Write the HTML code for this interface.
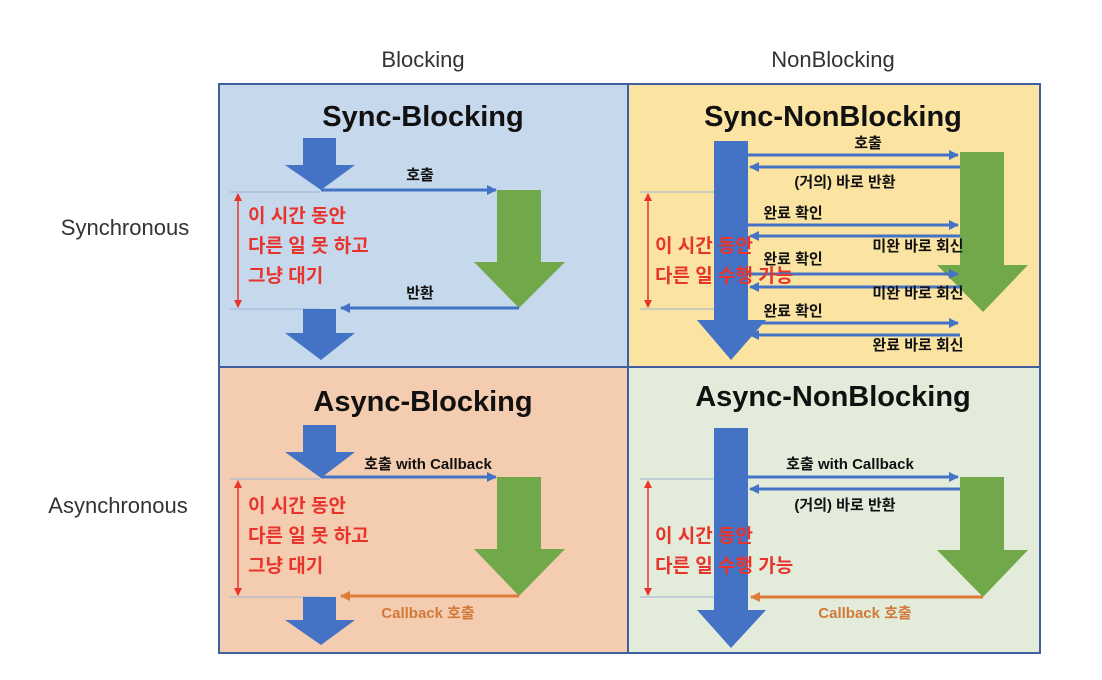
<!DOCTYPE html>
<html><head><meta charset="utf-8"><style>
html,body{margin:0;padding:0;background:#fff;}
svg{display:block;}
text{font-family:"Liberation Sans","Noto Sans CJK KR",sans-serif;}
.t{font-weight:bold;font-size:29px;fill:#111;text-anchor:middle;}
.h{font-size:22px;fill:#333;text-anchor:middle;}
.l{font-weight:bold;font-size:15px;fill:#111;text-anchor:middle;}
.o{font-weight:bold;font-size:15px;fill:#d2793a;text-anchor:middle;}
.r{font-weight:bold;font-size:19px;fill:#e8342c;}
.bl{stroke:#4472c4;stroke-width:3;fill:none;}
.th{stroke:#9db5d6;stroke-width:1;}
.rd{stroke:#e8342c;stroke-width:1.5;}
</style></head><body>
<svg width="1102" height="680" viewBox="0 0 1102 680" xmlns="http://www.w3.org/2000/svg">
<defs>
<marker id="ab" markerWidth="10" markerHeight="10" refX="9" refY="5" orient="auto" markerUnits="userSpaceOnUse"><path d="M0,0 L10,5 L0,10Z" fill="#4472c4"/></marker>
<marker id="ao" markerWidth="10" markerHeight="10" refX="9" refY="5" orient="auto" markerUnits="userSpaceOnUse"><path d="M0,0 L10,5 L0,10Z" fill="#e07a3a"/></marker>
<marker id="ar" markerWidth="8" markerHeight="8" refX="7" refY="4" orient="auto-start-reverse" markerUnits="userSpaceOnUse"><path d="M0,0 L8,4 L0,8Z" fill="#e8342c"/></marker>
</defs>
<rect x="0" y="0" width="1102" height="680" fill="#fff"/>
<text class="h" x="423" y="67">Blocking</text>
<text class="h" x="833" y="67">NonBlocking</text>
<text class="h" x="125" y="235">Synchronous</text>
<text class="h" x="118" y="513">Asynchronous</text>

<rect x="219" y="84" width="409" height="283" fill="#c5d8ec"/>
<rect x="628" y="84" width="412" height="283" fill="#fbe4a2"/>
<rect x="219" y="367" width="409" height="286" fill="#f4cdb1"/>
<rect x="628" y="367" width="412" height="286" fill="#e3ecda"/>
<rect x="219" y="84" width="821" height="569" fill="none" stroke="#3f5f9f" stroke-width="2"/>
<line x1="628" y1="84" x2="628" y2="653" stroke="#3f5f9f" stroke-width="2"/>
<line x1="219" y1="367" x2="1040" y2="367" stroke="#3f5f9f" stroke-width="2"/>

<!-- Sync-Blocking -->
<text class="t" x="423" y="126">Sync-Blocking</text>
<path d="M303,138 H336 V165 H355 L321,190 L285,165 H303Z" fill="#4472c4"/>
<path d="M497,190 H541 V262 H565 L519,308 L474,262 H497Z" fill="#70a84a"/>
<line x1="230" y1="192" x2="320" y2="192" class="th"/>
<line x1="230" y1="309" x2="320" y2="309" class="th"/>
<line x1="321" y1="190" x2="496" y2="190" class="bl" marker-end="url(#ab)"/>
<line x1="519" y1="308" x2="341" y2="308" class="bl" marker-end="url(#ab)"/>
<text class="l" x="420" y="180">호출</text>
<text class="l" x="420" y="298">반환</text>
<line x1="238" y1="194" x2="238" y2="307" class="rd" marker-start="url(#ar)" marker-end="url(#ar)"/>
<text class="r" x="248" y="222">이 시간 동안</text>
<text class="r" x="248" y="252">다른 일 못 하고</text>
<text class="r" x="248" y="282">그냥 대기</text>
<path d="M303,309 H336 V333 H355 L321,360 L285,333 H303Z" fill="#4472c4"/>

<!-- Sync-NonBlocking -->
<text class="t" x="833" y="126">Sync-NonBlocking</text>
<path d="M960,152 H1004 V265 H1028 L983,312 L937,265 H960Z" fill="#70a84a"/>
<line x1="640" y1="192" x2="714" y2="192" class="th"/>
<line x1="640" y1="309" x2="714" y2="309" class="th"/>
<line x1="648" y1="194" x2="648" y2="307" class="rd" marker-start="url(#ar)" marker-end="url(#ar)"/>
<path d="M714,141 H748 V320 H766 L731,360 L697,320 H714Z" fill="#4472c4"/>
<line x1="748" y1="155" x2="958" y2="155" class="bl" marker-end="url(#ab)"/>
<line x1="960" y1="167" x2="750" y2="167" class="bl" marker-end="url(#ab)"/>
<line x1="748" y1="225" x2="958" y2="225" class="bl" marker-end="url(#ab)"/>
<line x1="960" y1="236" x2="750" y2="236" class="bl" marker-end="url(#ab)"/>
<line x1="748" y1="274" x2="958" y2="274" class="bl" marker-end="url(#ab)"/>
<line x1="960" y1="287" x2="750" y2="287" class="bl" marker-end="url(#ab)"/>
<line x1="748" y1="323" x2="958" y2="323" class="bl" marker-end="url(#ab)"/>
<line x1="960" y1="335" x2="750" y2="335" class="bl" marker-end="url(#ab)"/>
<text class="l" x="868" y="148">호출</text>
<text class="l" x="845" y="187">(거의) 바로 반환</text>
<text class="l" x="793" y="218">완료 확인</text>
<text class="l" x="918" y="251">미완 바로 회신</text>
<text class="l" x="793" y="264">완료 확인</text>
<text class="l" x="918" y="298">미완 바로 회신</text>
<text class="l" x="793" y="316">완료 확인</text>
<text class="l" x="918" y="350">완료 바로 회신</text>
<text class="r" x="655" y="252">이 시간 동안</text>
<text class="r" x="655" y="282">다른 일 수행 가능</text>

<!-- Async-Blocking -->
<text class="t" x="423" y="411">Async-Blocking</text>
<path d="M303,425 H336 V452 H355 L321,478 L285,452 H303Z" fill="#4472c4"/>
<path d="M497,477 H541 V549 H565 L519,596 L474,549 H497Z" fill="#70a84a"/>
<line x1="230" y1="479" x2="320" y2="479" class="th"/>
<line x1="230" y1="597" x2="320" y2="597" class="th"/>
<line x1="321" y1="477" x2="496" y2="477" class="bl" marker-end="url(#ab)"/>
<line x1="519" y1="596" x2="341" y2="596" stroke="#e07a3a" stroke-width="3" marker-end="url(#ao)"/>
<text class="l" x="428" y="469">호출 with Callback</text>
<text class="o" x="428" y="618">Callback 호출</text>
<line x1="238" y1="481" x2="238" y2="595" class="rd" marker-start="url(#ar)" marker-end="url(#ar)"/>
<text class="r" x="248" y="512">이 시간 동안</text>
<text class="r" x="248" y="542">다른 일 못 하고</text>
<text class="r" x="248" y="572">그냥 대기</text>
<path d="M303,597 H336 V620 H355 L321,645 L285,620 H303Z" fill="#4472c4"/>

<!-- Async-NonBlocking -->
<text class="t" x="833" y="406">Async-NonBlocking</text>
<path d="M960,477 H1004 V550 H1028 L983,597 L937,550 H960Z" fill="#70a84a"/>
<line x1="640" y1="479" x2="714" y2="479" class="th"/>
<line x1="640" y1="597" x2="714" y2="597" class="th"/>
<line x1="648" y1="481" x2="648" y2="595" class="rd" marker-start="url(#ar)" marker-end="url(#ar)"/>
<path d="M714,428 H748 V610 H766 L731,648 L697,610 H714Z" fill="#4472c4"/>
<line x1="748" y1="477" x2="958" y2="477" class="bl" marker-end="url(#ab)"/>
<line x1="960" y1="489" x2="750" y2="489" class="bl" marker-end="url(#ab)"/>
<line x1="983" y1="597" x2="751" y2="597" stroke="#e07a3a" stroke-width="3" marker-end="url(#ao)"/>
<text class="l" x="850" y="469">호출 with Callback</text>
<text class="l" x="845" y="510">(거의) 바로 반환</text>
<text class="o" x="865" y="618">Callback 호출</text>
<text class="r" x="655" y="542">이 시간 동안</text>
<text class="r" x="655" y="572">다른 일 수행 가능</text>
</svg>
</body></html>
